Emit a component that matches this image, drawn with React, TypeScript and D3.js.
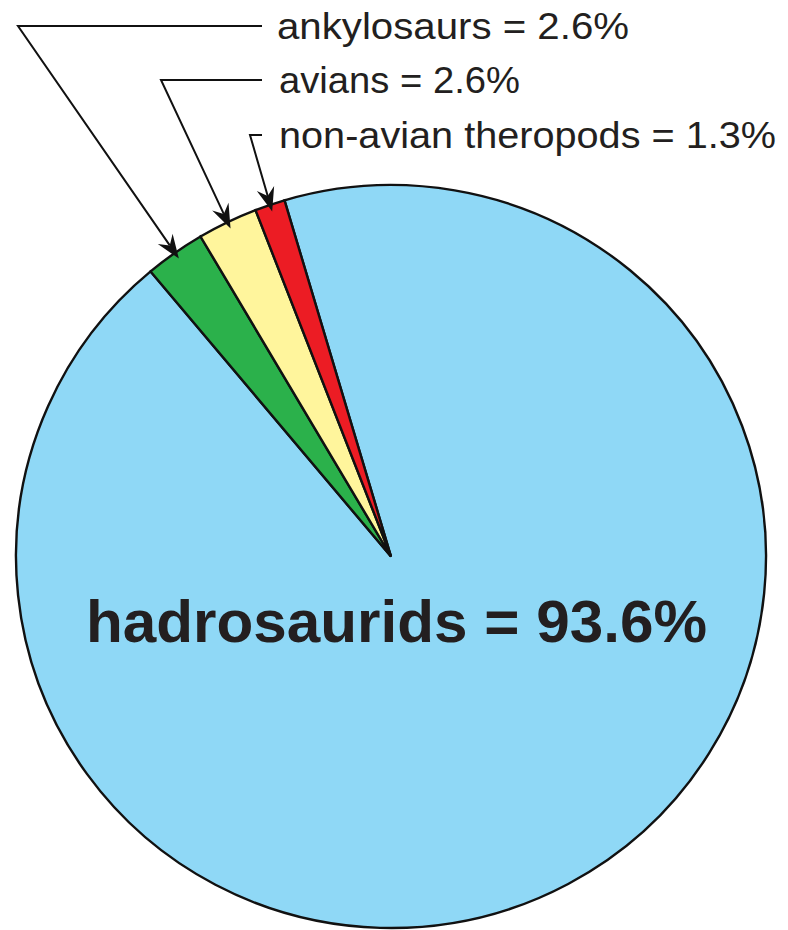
import React from 'react';
import * as d3 from 'd3';

// share of identified specimens by group
const groups = ['hadrosaurids', 'ankylosaurs', 'avians', 'non-avian theropods'];
const percents = [93.6, 2.6, 2.6, 1.3];
const sliceColors = ['#8fd8f6', '#2bb14b', '#fff59c', '#ec1c24'];

// callout placement for the small slices (ankylosaurs, avians, theropods)
const calloutBaseline = [39, 93, 148];
const calloutTextX = [277, 279, 279];
const calloutTextWidth = [352, 241, 497];
const calloutElbowX = [18, 161, 250];

const W = 788;
const H = 930;
const cx = 391;
const cy = 556.5;
const rx = 375;
const ry = 371.5;
const ink = '#231f20';

const deg = Math.PI / 180;

export default function App() {
  const data = groups.map((g, i) => ({ group: g, value: percents[i], color: sliceColors[i] }));

  const pie = d3.pie<{ group: string; value: number; color: string }>()
    .value(d => d.value)
    .sort(null)
    .startAngle(-16.5 * deg)
    .endAngle(-16.5 * deg + 2 * Math.PI);

  const arc = d3.arc<d3.PieArcDatum<{ group: string; value: number; color: string }>>()
    .innerRadius(0)
    .outerRadius(rx);

  const arcs = pie(data);
  const sy = ry / rx;

  // arrow tip sits just inside the rim at the slice's mid angle
  const tipR = 368;
  const callouts = arcs.slice(1).map((a, i) => {
    const mid = (a.startAngle + a.endAngle) / 2;
    const tx = cx + tipR * Math.sin(mid);
    const ty = cy - tipR * Math.cos(mid) * sy;
    const base = calloutBaseline[i];
    const lineY = base - 13;
    const ex = calloutElbowX[i];
    const ang = Math.atan2(ty - lineY, tx - ex);
    const ux = Math.cos(ang), uy = Math.sin(ang);
    const px = -uy, py = ux;
    const len = 24, half = 9, notch = 16;
    const head = [
      [tx, ty],
      [tx - ux * len + px * half, ty - uy * len + py * half],
      [tx - ux * notch, ty - uy * notch],
      [tx - ux * len - px * half, ty - uy * len - py * half],
    ];
    return {
      label: `${a.data.group} = ${a.data.value.toFixed(1)}%`,
      tx, ty, lineY, ex, base, i,
      stemEnd: [tx - ux * notch, ty - uy * notch],
      head: 'M' + head.map(p => p.join(',')).join('L') + 'Z',
    };
  });

  const big = arcs[0].data;

  return (
    <svg width={W} height={H} style={{ position: 'absolute', left: 0, top: 0, background: '#fff' }}
      fontFamily="'Liberation Sans', Arial, Helvetica, sans-serif">
      <g transform={`translate(${cx},${cy}) scale(1,${sy})`}>
        {arcs.map(a => (
          <path key={a.data.group} d={arc(a) || ''} fill={a.data.color}
            stroke="#111" strokeWidth={2.4} vectorEffect="non-scaling-stroke" strokeLinejoin="miter" />
        ))}
      </g>

      {callouts.map(c => (
        <g key={c.label}>
          <polyline points={`262,${c.lineY} ${c.ex},${c.lineY} ${c.stemEnd[0]},${c.stemEnd[1]}`}
            fill="none" stroke="#111" strokeWidth={2} />
          <path d={c.head} fill="#111" />
          <text x={calloutTextX[c.i]} y={c.base} fontSize={37} fill={ink}
            textLength={calloutTextWidth[c.i]} lengthAdjust="spacingAndGlyphs">{c.label}</text>
        </g>
      ))}

      <text x={86} y={642} fontSize={60} fontWeight="bold" fill={ink}
        textLength={621} lengthAdjust="spacingAndGlyphs">
        {`${big.group} = ${big.value.toFixed(1)}%`}
      </text>
    </svg>
  );
}
